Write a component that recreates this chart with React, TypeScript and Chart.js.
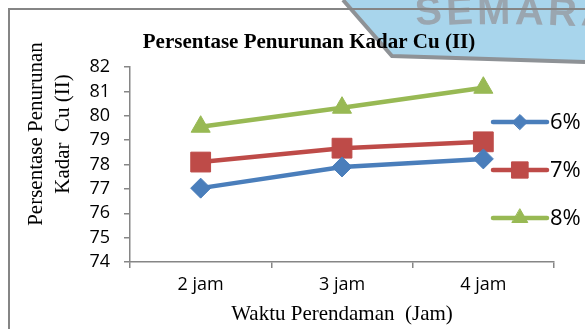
import { useEffect, useRef } from 'react';
import { Chart, registerables } from 'chart.js';
import { drawPoint } from 'chart.js/helpers';

Chart.register(...registerables);

const categories = ['2 jam', '3 jam', '4 jam'];
const seriesLabels = ['6%', '7%', '8%'];
const values6 = [77.03, 77.9, 78.23];
const values7 = [78.1, 78.67, 78.93];
const values8 = [79.55, 80.33, 81.15];
const yMin = 74;
const yMax = 82;
const yStep = 1;
const chartTitle = 'Persentase Penurunan Kadar Cu (II)';
const yTitleLines = ['Persentase Penurunan', 'Kadar  Cu (II)'];
const xTitle = 'Waktu Perendaman  (Jam)';
const watermarkText = 'SEMARANG';

const colors = ['#4A7EBB', '#BE4B48', '#98B954'];
const pointStyles = ['rectRot', 'rect', 'triangle'];
const pointRadii = [10, 14, 11];
const legendRadii = [7.5, 11.5, 9];

const decorPlugin = {
  id: 'decor',
  beforeDraw(chart: any) {
    const ctx = chart.ctx;
    ctx.save();
    ctx.fillStyle = '#ffffff';
    ctx.fillRect(0, 0, chart.width, chart.height);
    // watermark seal (scan artefact)
    ctx.beginPath();
    ctx.moveTo(343, 0);
    ctx.lineTo(585, 0);
    ctx.lineTo(585, 62);
    ctx.lineTo(392, 56);
    ctx.closePath();
    ctx.fillStyle = '#A8D5EC';
    ctx.fill();
    ctx.beginPath();
    ctx.moveTo(343, 0);
    ctx.lineTo(392, 56);
    ctx.lineTo(585, 62);
    ctx.strokeStyle = '#8E9296';
    ctx.lineWidth = 4;
    ctx.stroke();
    ctx.font = 'bold 40px "Liberation Sans"';
    ctx.fillStyle = '#9AA6B0';
    ctx.textBaseline = 'alphabetic';
    ctx.textAlign = 'left';
    const letters = watermarkText.split('');
    let x = 416;
    letters.forEach((ch, i) => {
      ctx.save();
      ctx.translate(x, 24 + Math.abs(i - 2.5) * 0.5);
      ctx.rotate((i - 2.5) * 0.03);
      ctx.fillText(ch, 0, 0);
      ctx.restore();
      x += ctx.measureText(ch).width + 4;
    });
    // frame
    ctx.strokeStyle = '#858585';
    ctx.lineWidth = 2;
    ctx.beginPath();
    ctx.moveTo(9, chart.height);
    ctx.lineTo(9, 9);
    ctx.lineTo(chart.width, 9);
    ctx.stroke();
    ctx.restore();
  },
  afterDraw(chart: any) {
    const ctx = chart.ctx;
    const area = chart.chartArea;
    ctx.save();
    ctx.fillStyle = '#000000';
    ctx.textAlign = 'center';
    ctx.textBaseline = 'middle';
    // chart title
    ctx.font = 'bold 21px "Liberation Serif"';
    ctx.fillText(chartTitle, 309, 43);
    // x title
    ctx.font = '21px "Liberation Serif"';
    ctx.fillText(xTitle, (area.left + area.right) / 2, 314);
    // y title
    yTitleLines.forEach((line, i) => {
      ctx.save();
      ctx.translate(36 + i * 27, 134);
      ctx.rotate(-Math.PI / 2);
      ctx.fillText(line, 0, 0);
      ctx.restore();
    });
    // legend
    chart.data.datasets.forEach((ds: any, i: number) => {
      const y = 122 + i * 48;
      ctx.strokeStyle = ds.borderColor;
      ctx.lineWidth = 4.5;
      ctx.lineCap = 'round';
      ctx.beginPath();
      ctx.moveTo(493, y);
      ctx.lineTo(547, y);
      ctx.stroke();
      ctx.fillStyle = ds.backgroundColor;
      ctx.lineWidth = 1;
      drawPoint(ctx, { pointStyle: ds.pointStyle, radius: legendRadii[i], rotation: 0, borderWidth: 1 }, 520, y);
      ctx.fillStyle = '#000000';
      ctx.textAlign = 'left';
      ctx.font = '22px "Open Sans"';
      ctx.fillText(ds.label, 550, y + 1);
    });
    ctx.restore();
  },
};

export default function App() {
  const canvasRef = useRef<HTMLCanvasElement | null>(null);

  useEffect(() => {
    document.body.style.margin = '0';
    const canvas = canvasRef.current;
    if (!canvas) return;
    const datasetsValues = [values6, values7, values8];
    const chart = new Chart(canvas, {
      type: 'line',
      data: {
        labels: categories,
        datasets: datasetsValues.map((vals, i) => ({
          label: seriesLabels[i],
          data: vals,
          borderColor: colors[i],
          backgroundColor: colors[i],
          borderWidth: 4.5,
          pointStyle: pointStyles[i] as any,
          pointRadius: pointRadii[i],
          pointBorderWidth: 1,
          pointBackgroundColor: colors[i],
          pointBorderColor: colors[i],
          tension: 0,
        })),
      },
      options: {
        animation: false,
        responsive: false,
        maintainAspectRatio: false,
        devicePixelRatio: 1,
        layout: { padding: { top: 67, right: 31, left: 0, bottom: 0 } },
        plugins: {
          legend: { display: false },
          title: { display: false },
          tooltip: { enabled: false },
        },
        scales: {
          x: {
            type: 'category',
            offset: true,
            grid: {
              offset: true,
              drawOnChartArea: false,
              drawTicks: true,
              tickLength: 6,
              color: '#868686',
              lineWidth: 1.5,
            },
            border: { display: true, color: '#868686', width: 1.5 },
            ticks: {
              color: '#000000',
              font: { family: '"Open Sans"', size: 18 },
              padding: 6,
              maxRotation: 0,
              autoSkip: false,
            },
            afterFit: (s: any) => {
              s.height = 67;
            },
          },
          y: {
            min: yMin,
            max: yMax,
            grid: {
              drawOnChartArea: false,
              drawTicks: true,
              tickLength: 6,
              color: '#868686',
              lineWidth: 1.5,
            },
            border: { display: true, color: '#868686', width: 1.5 },
            ticks: {
              stepSize: yStep,
              autoSkip: false,
              color: '#000000',
              font: { family: '"Open Sans"', size: 18 },
              padding: 14,
            },
            afterFit: (s: any) => {
              s.width = 130;
            },
          },
        },
      },
      plugins: [decorPlugin],
    });
    return () => chart.destroy();
  }, []);

  return (
    <div style={{ width: 585, height: 329, overflow: 'hidden' }}>
      <canvas ref={canvasRef} width={585} height={329} style={{ display: 'block' }} />
    </div>
  );
}
